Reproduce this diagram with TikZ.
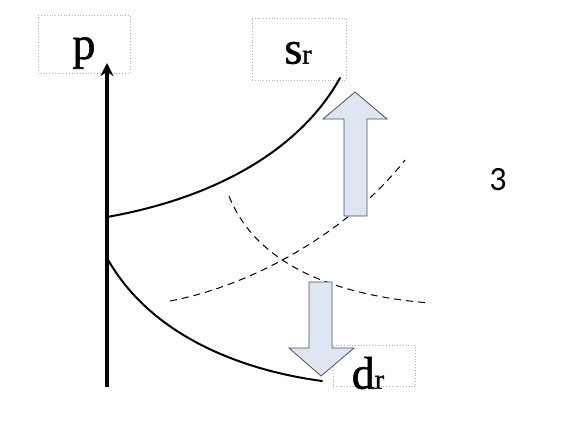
\documentclass[tikz,border=0pt]{standalone}
\usepackage{fontspec}
\setmainfont{Liberation Serif}
\newfontfamily\boxfont[FakeBold=1.2]{Liberation Serif}
\newfontfamily\labelfont{Carlito}
\usetikzlibrary{arrows.meta}
\definecolor{shiftfill}{RGB}{221,230,242}
\definecolor{shiftline}{RGB}{80,80,80}
\tikzset{
    labelbox/.style={draw=gray!60, dotted, line width=0.8pt, inner sep=0pt},
    curve/.style={line width=2pt, line cap=round},
    newcurve/.style={line width=1pt, dash pattern=on 7pt off 5pt},
    shiftarrow/.style={draw=shiftline, fill=shiftfill, line width=0.8pt, line join=miter}
}
\newcommand{\sm}[1]{{\fontsize{28}{28}\selectfont #1}}
\begin{document}
\begin{tikzpicture}[x=1pt, y=-1pt, >={Stealth[length=13pt, width=13pt]}]
    % Khung hình
    \useasboundingbox (0,0) rectangle (569,428);

    % 1. Các nhãn trong khung chấm
    \node[labelbox, minimum width=92pt, minimum height=58pt] (pbox) at (84,44) {};
    \node (p) at (84,53) {\boxfont\fontsize{46}{46}\selectfont p};
    \node[labelbox, minimum width=94pt, minimum height=62pt] (sbox) at (299,49) {};
    \node (sr) at (298,53) {\boxfont\fontsize{46}{46}\selectfont s\sm{r}};
    \node[labelbox, minimum width=82pt, minimum height=41pt] (dbox) at (374,366) {};
    \node (dr) at (368,373) {\boxfont\fontsize{46}{46}\selectfont d\sm{r}};
    \node (three) at (498,180) {\labelfont\fontsize{34}{34}\selectfont 3};

    % 2. Trục p
    \coordinate (O) at (107,387);
    \coordinate (ptop) at (107,63);
    \draw[->, line width=3.2pt] (O) -- (ptop);

    % 3. Đường cung và cầu ban đầu
    \coordinate (s0) at (107,217);
    \coordinate (s1) at (340,78);
    \coordinate (d0) at (107,258);
    \coordinate (d1) at (322,381);
    \draw[curve] (s0) .. controls (215,198) and (300,150) .. (s1);
    \draw[curve] (d0) .. controls (150,335) and (240,370) .. (d1);

    % 4. Đường mới (nét đứt)
    \coordinate (ns0) at (170,301);
    \coordinate (ns1) at (405,160);
    \coordinate (nd0) at (229,196);
    \coordinate (nd1) at (430,303);
    \draw[newcurve] (ns0) .. controls (255,285) and (350,230) .. (ns1);
    \draw[newcurve] (nd0) .. controls (255,262) and (330,295) .. (nd1);

    % 5. Mũi tên dịch chuyển
    \draw[shiftarrow] (344,216) -- (367,216) -- (367,119) -- (387,119)
        -- (355,92) -- (323,119) -- (344,119) -- cycle;
    \draw[shiftarrow] (309,282) -- (332,282) -- (332,348) -- (354,348)
        -- (321,376) -- (289,348) -- (309,348) -- cycle;
\end{tikzpicture}
\end{document}
